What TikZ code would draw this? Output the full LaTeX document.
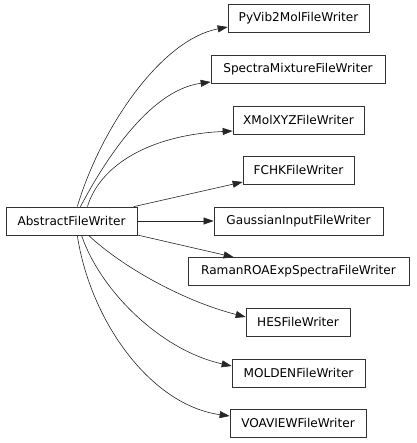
\documentclass[tikz,border=0pt]{standalone}
\usepackage{fontspec}
\setmainfont{DejaVu Sans}
\usetikzlibrary{arrows.meta}
\begin{document}
\begin{tikzpicture}[x=1bp,y=-1bp,
  cls/.style={draw=black!80,line width=0.7bp,rectangle,minimum height=28bp,inner sep=0pt,font=\fontsize{12.1bp}{14bp}\selectfont},
  edge/.style={draw=black!85,line width=0.6bp,-{Triangle[length=10bp,width=7bp]}}]
\useasboundingbox (0,0) rectangle (416,443);
\node[cls,minimum width=131bp] (abs) at (71.5,221) {AbstractFileWriter};
\node[cls,minimum width=141bp] (py) at (298.5,18) {PyVib2MolFileWriter};
\node[cls,minimum width=174bp] (spec) at (298,69.5) {SpectraMixtureFileWriter};
\node[cls,minimum width=131bp] (xmol) at (298.5,120) {XMolXYZFileWriter};
\node[cls,minimum width=111bp] (fchk) at (298.5,170) {FCHKFileWriter};
\node[cls,minimum width=169bp] (gau) at (298.5,221) {GaussianInputFileWriter};
\node[cls,minimum width=221bp] (ram) at (298.5,271.5) {RamanROAExpSpectraFileWriter};
\node[cls,minimum width=104bp] (hes) at (298,322) {HESFileWriter};
\node[cls,minimum width=133bp] (mol) at (298.5,373) {MOLDENFileWriter};
\node[cls,minimum width=136bp] (voa) at (298,423) {VOAVIEWFileWriter};
\draw[edge] (abs.68.5) .. controls (100,130) and (160,40) .. ([yshift=-9bp]py.west);
\draw[edge] (abs.58.7) .. controls (105,160) and (150,90) .. ([yshift=-12.5bp]spec.west);
\draw[edge] (abs.42) .. controls (100,165) and (150,135) .. ([yshift=-11bp]xmol.west);
\draw[edge] (abs.13.2) -- ([yshift=-12bp]fchk.west);
\draw[edge] (abs.east) -- (gau.west);
\draw[edge] (abs.-12.6) -- ([xshift=46bp]ram.north west);
\draw[edge] (abs.-40.3) .. controls (120,265) and (180,300) .. ([yshift=5bp]hes.west);
\draw[edge] (abs.-55.8) .. controls (100,290) and (160,350) .. ([yshift=7bp]mol.west);
\draw[edge] (abs.-68.5) .. controls (90,320) and (150,405) .. ([yshift=7bp]voa.west);
\end{tikzpicture}
\end{document}
